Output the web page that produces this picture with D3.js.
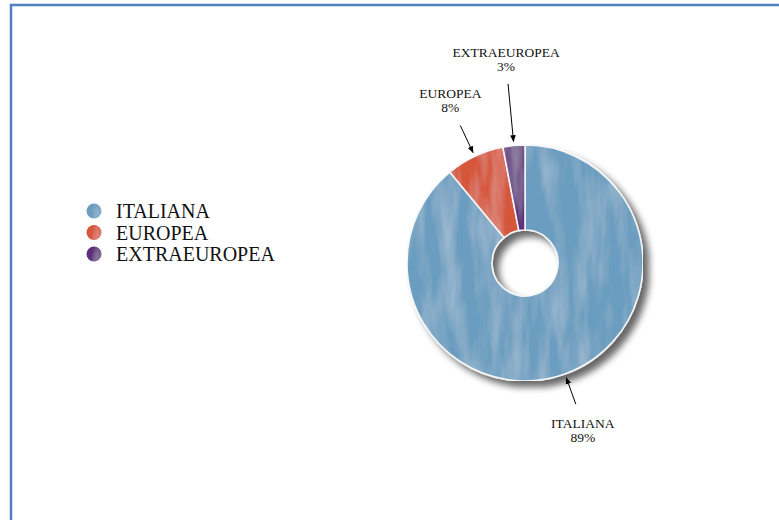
<!DOCTYPE html>
<html>
<head>
<meta charset="utf-8">
<script src="https://cdn.jsdelivr.net/npm/d3@7/dist/d3.min.js"></script>
<style>
    body { margin: 0; background: #fff; }
    svg { display: block; }
</style>
</head>
<body>
<div id="donut-chart"></div>
<script>
// data
const categories = ["ITALIANA", "EUROPEA", "EXTRAEUROPEA"];
const shares = [89, 8, 3];
const shareLabels = ["89%", "8%", "3%"];
const colorList = ["#6a9dbf", "#d5563a", "#5c2d7c"];

render();

function render() {
    const width = 779, height = 520;
    const cx = 525, cy = 263;
    const outerR = 118, innerR = 33;

    const svg = d3.select('#donut-chart').append('svg')
        .attr('width', width)
        .attr('height', height)
        .style('font-family', '"Liberation Serif", "Times New Roman", serif');

    const defs = svg.append('defs');

    // drop shadow under the ring
    const shadow = defs.append('filter').attr('id', 'shadow')
        .attr('x', '-20%').attr('y', '-20%').attr('width', '140%').attr('height', '140%');
    shadow.append('feGaussianBlur').attr('in', 'SourceAlpha').attr('stdDeviation', 3.5).attr('result', 'blur');
    shadow.append('feOffset').attr('in', 'blur').attr('dx', 6).attr('dy', 6).attr('result', 'off');
    shadow.append('feComponentTransfer').attr('in', 'off').attr('result', 'soft')
        .append('feFuncA').attr('type', 'linear').attr('slope', 0.6);
    const merge = shadow.append('feMerge');
    merge.append('feMergeNode').attr('in', 'soft');
    merge.append('feMergeNode').attr('in', 'SourceGraphic');

    // faint brush-stroke texture on the slices
    const tex = defs.append('filter').attr('id', 'brush')
        .attr('x', 0).attr('y', 0).attr('width', '100%').attr('height', '100%');
    tex.append('feTurbulence').attr('type', 'fractalNoise')
        .attr('baseFrequency', '0.06 0.012').attr('numOctaves', 3).attr('seed', 7).attr('result', 'noise');
    tex.append('feColorMatrix').attr('in', 'noise').attr('type', 'matrix')
        .attr('values', '0 0 0 0 1  0 0 0 0 1  0 0 0 0 1  0.5 0 0 0 -0.2')
        .attr('result', 'light');
    tex.append('feComposite').attr('in', 'light').attr('in2', 'SourceGraphic').attr('operator', 'in').attr('result', 'lightIn');
    const m2 = tex.append('feMerge');
    m2.append('feMergeNode').attr('in', 'SourceGraphic');
    m2.append('feMergeNode').attr('in', 'lightIn');

    // frame
    svg.append('rect')
        .attr('x', 11).attr('y', 5)
        .attr('width', width + 20).attr('height', height + 20)
        .attr('fill', 'none')
        .attr('stroke', '#4f81bd')
        .attr('stroke-width', 2.5);

    const color = d3.scaleOrdinal().domain(categories).range(colorList);

    const pie = d3.pie().sort(null).value(d => d.value);
    const data_ready = pie(categories.map((c, i) => ({ name: c, value: shares[i], label: shareLabels[i] })));

    const arcGenerator = d3.arc().innerRadius(innerR).outerRadius(outerR);

    const g = svg.append('g').attr('transform', `translate(${cx},${cy})`);

    const ring = g.append('g').attr('filter', 'url(#shadow)');
    ring.append('g').attr('filter', 'url(#brush)')
        .selectAll('path')
        .data(data_ready)
        .join('path')
        .attr('d', arcGenerator)
        .attr('fill', d => color(d.data.name))
        .attr('stroke', '#f4f6f8')
        .attr('stroke-width', 1.6);

    // callouts
    defs.append('marker').attr('id', 'arrow')
        .attr('viewBox', '0 0 10 10').attr('refX', 9).attr('refY', 5)
        .attr('markerWidth', 7).attr('markerHeight', 7).attr('orient', 'auto')
        .append('path').attr('d', 'M0,1 L10,5 L0,9 Z').attr('fill', '#000');

    const callout = {
        ITALIANA: { from: 150, to: 122, dx: 7, dy: 24 },
        EUROPEA: { from: 152, to: 122, dx: -10, dy: -27 },
        EXTRAEUROPEA: { from: 180, to: 122, dx: -2, dy: -27 }
    };
    const pt = (a, r) => [Math.sin(a) * r, -Math.cos(a) * r];

    const labels = g.selectAll('g.callout')
        .data(data_ready)
        .join('g')
        .attr('class', 'callout');

    labels.append('line')
        .each(function (d) {
            const c = callout[d.data.name];
            const mid = (d.startAngle + d.endAngle) / 2;
            const p0 = pt(mid, c.from), p1 = pt(mid, c.to);
            d3.select(this).attr('x1', p0[0]).attr('y1', p0[1]).attr('x2', p1[0]).attr('y2', p1[1]);
        })
        .attr('stroke', '#000')
        .attr('stroke-width', 1)
        .attr('marker-end', 'url(#arrow)');

    const txt = labels.append('text')
        .attr('text-anchor', 'middle')
        .style('font-size', '13.5px')
        .attr('fill', '#111')
        .attr('transform', d => {
            const c = callout[d.data.name];
            const p = pt((d.startAngle + d.endAngle) / 2, c.from);
            return `translate(${p[0] + c.dx},${p[1] + c.dy})`;
        });
    txt.append('tspan').attr('x', 0).attr('y', 0).text(d => d.data.name);
    txt.append('tspan').attr('x', 0).attr('y', 14).text(d => d.data.label);

    // legend
    const legend = svg.append('g').attr('transform', 'translate(94,211)');
    const items = legend.selectAll('g')
        .data(categories)
        .join('g')
        .attr('transform', (d, i) => `translate(0,${i * 21.5})`);
    items.append('circle')
        .attr('r', 7.5)
        .attr('fill', d => color(d))
        .attr('filter', 'url(#brush)');
    items.append('text')
        .attr('x', 22)
        .attr('y', 7)
        .style('font-size', '20px')
        .attr('fill', '#111')
        .text(d => d);
}
</script>
</body>
</html>
